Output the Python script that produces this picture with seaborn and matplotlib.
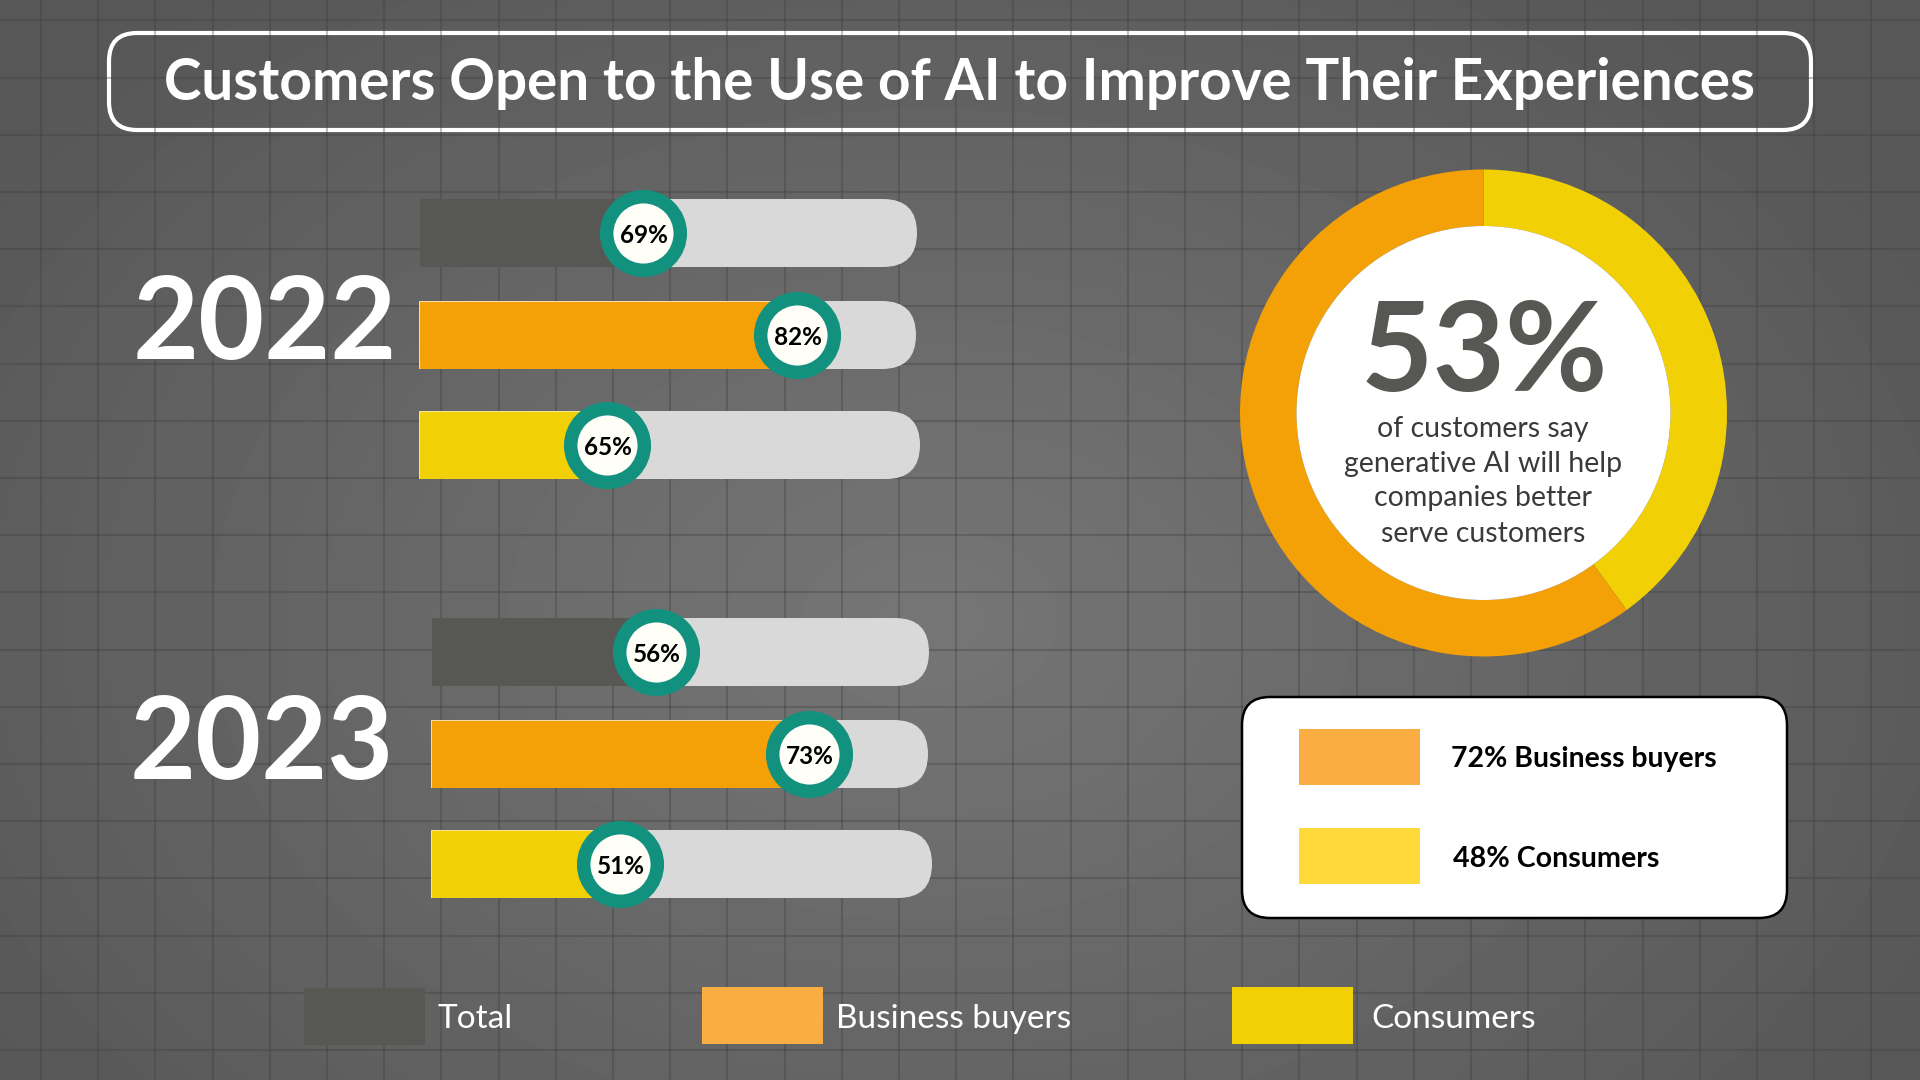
import numpy as np
import pandas as pd
import matplotlib
matplotlib.use("Agg")
import matplotlib.pyplot as plt
from matplotlib.patches import FancyBboxPatch, Rectangle
import seaborn as sns

# values
segments = ["Total", "Business buyers", "Consumers"]
percent_2022 = [69, 82, 65]
percent_2023 = [56, 73, 51]
# the bars in the original are not to scale, this is how far each is filled
filled_2022 = [44.9, 76.1, 37.5]
filled_2023 = [45.1, 76.1, 37.7]
donut_labels = ["Consumers", "Business buyers"]
donut_values = [48, 72]
donut_headline = "53%"
donut_text = ["of customers say", "generative AI will help", "companies better", "serve customers"]
title = "Customers Open to the Use of AI to Improve Their Experiences"

GRAY = "#575853"
ORANGE = "#F4A007"
YELLOW = "#F2D006"
TEAL = "#12917F"
TRACK = "#D9D9D9"
W, H = 1920, 1080

sns.set_theme(style="white")
plt.rcParams["font.family"] = ["Lato", "DejaVu Sans"]

fig = plt.figure(figsize=(W / 100, H / 100), dpi=100)


def px_axes(x0, y0, x1, y1):
    ax = fig.add_axes([x0 / W, 1 - y1 / H, (x1 - x0) / W, (y1 - y0) / H])
    ax.set_axis_off()
    return ax


# background
bg = px_axes(0, 0, W, H)
yy, xx = np.mgrid[0:H:270j, 0:W:480j]
dist = np.clip(np.sqrt(((xx - 930) / 1150) ** 2 + ((yy - 620) / 820) ** 2), 0, 1)
shade = (0x76 - (0x76 - 0x57) * dist) / 255
bg.imshow(shade, cmap="gray", vmin=0, vmax=1, extent=(0, W, H, 0), aspect="auto")
bg.vlines(41 + 57.2 * np.arange(-1, 34), 0, H, color="#3c3c3c", alpha=0.32, lw=1.5)
bg.hlines(20.4 + 57.2 * np.arange(-1, 19), 0, W, color="#3c3c3c", alpha=0.32, lw=1.5)
bg.set_xlim(0, W)
bg.set_ylim(H, 0)

# title box
bg.add_patch(FancyBboxPatch((109, 33), 1702, 97, boxstyle="round,pad=0,rounding_size=28",
                            fc="none", ec="white", lw=3))
bg.text(960, 84, title, color="white", fontsize=40.8, fontweight="bold", ha="center", va="center")

bg.text(265, 326, "2022", color="white", fontsize=82, fontweight="bold", ha="center", va="center")
bg.text(262, 746, "2023", color="white", fontsize=82, fontweight="bold", ha="center", va="center")


def draw_bar(box, segment, filled, percent, color, edge):
    x0, y0, x1, y1 = box
    ax = px_axes(x0, y0, x1, y1)
    df = pd.DataFrame({"segment": [segment], "filled": [filled], "row": [0]})
    # rounded track behind the bar
    r = 34 / (x1 - x0) * 100
    ax.add_patch(FancyBboxPatch((0, -0.5), 100, 1, boxstyle=f"round,pad=0,rounding_size={r}",
                                mutation_aspect=0.5 / r, fc=TRACK, ec="none", zorder=1))
    sns.barplot(data=df, x="filled", y="row", orient="h", color=color, saturation=1,
                width=1, ax=ax, zorder=2, edgecolor=edge, linewidth=0.8)
    sns.scatterplot(data=df, x="filled", y="row", s=53 ** 2, color="#FFFFF8", edgecolor=TEAL,
                    linewidth=9.7, clip_on=False, zorder=3, ax=ax, legend=False)
    ax.text(filled + 0.2, 0.03, f"{percent}%", color="black", fontsize=17.5, fontweight="bold",
            ha="center", va="center", zorder=4)
    ax.set_xlim(0, 100)
    ax.set_ylim(0.5, -0.5)
    ax.set_axis_off()


colors = [GRAY, ORANGE, YELLOW]
edges = [GRAY, "#F6DCA4", "#F6E48A"]
boxes_2022 = [(420, 199, 917, 267), (419, 301, 916, 369), (419, 411, 920, 479)]
boxes_2023 = [(432, 618, 929, 686), (431, 720, 928, 788), (431, 830, 932, 898)]
for i in range(3):
    draw_bar(boxes_2022[i], segments[i], filled_2022[i], percent_2022[i], colors[i], edges[i])
    draw_bar(boxes_2023[i], segments[i], filled_2023[i], percent_2023[i], colors[i], edges[i])

# donut
pie_ax = px_axes(1240, 169.5, 1727, 656.5)
pie_ax.pie(donut_values, colors=[YELLOW, ORANGE], startangle=90, counterclock=False,
           radius=1, wedgeprops={"width": 1 - 187 / 243.5, "linewidth": 0}, labels=None)
pie_ax.add_patch(plt.Circle((0, 0), 187 / 243.5, fc="white", ec="none"))
pie_ax.set_xlim(-1, 1)
pie_ax.set_ylim(-1, 1)
bg2 = px_axes(0, 0, W, H)
bg2.set_xlim(0, W)
bg2.set_ylim(H, 0)
bg2.text(1484, 355, donut_headline, color=GRAY, fontsize=90, fontweight="bold", ha="center", va="center")
for line, y in zip(donut_text, [429, 464, 498, 534]):
    bg2.text(1483, y, line, color="#3a3a3a", fontsize=20.5, ha="center", va="center")

# white box with the split
bg2.add_patch(FancyBboxPatch((1242, 697), 545, 221, boxstyle="round,pad=0,rounding_size=28",
                             fc="white", ec="black", lw=1.8))
bg2.add_patch(Rectangle((1299, 729), 121, 56, fc="#F9AD42", ec="none"))
bg2.add_patch(Rectangle((1299, 828), 121, 56, fc="#FFD939", ec="none"))
bg2.text(1451, 759, f"{donut_values[1]}% {donut_labels[1]}", color="black", fontsize=20.4,
         fontweight="bold", ha="left", va="center")
bg2.text(1453, 859, f"{donut_values[0]}% {donut_labels[0]}", color="black", fontsize=20.6,
         fontweight="bold", ha="left", va="center")

# legend at the bottom
legend_colors = [GRAY, "#F9AD42", YELLOW]
legend_boxes = [(304, 988), (702, 987), (1232, 987)]
legend_text_x = [437, 836, 1371]
for seg, col, (lx, ly), tx in zip(segments, legend_colors, legend_boxes, legend_text_x):
    bg2.add_patch(Rectangle((lx, ly), 121, 57, fc=col, ec="none"))
    bg2.text(tx, 1019, seg, color="white", fontsize=24, fontweight="normal", ha="left", va="center")

fig.savefig("out.png", dpi=100)
